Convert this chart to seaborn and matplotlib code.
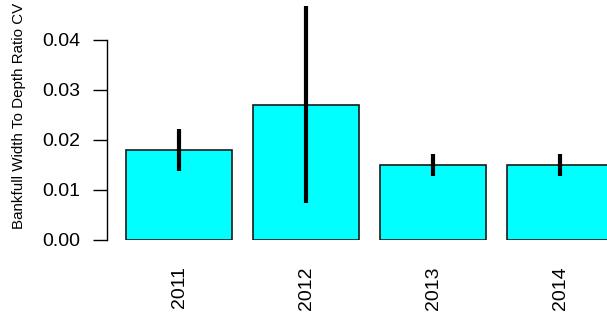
#!/usr/bin/env python3
"""Bankfull width to depth ratio CV by year, bar chart with interval lines."""

import pandas as pd
import seaborn as sns
import matplotlib
matplotlib.use("Agg")
import matplotlib.pyplot as plt

# --- Data ---
years = ["2011", "2012", "2013", "2014"]
cv_mean = [0.018, 0.027, 0.015, 0.015]
cv_low = [0.0138, 0.0074, 0.0128, 0.0128]
cv_high = [0.0222, 0.0468, 0.0172, 0.0172]
y_ticks = [0.00, 0.01, 0.02, 0.03, 0.04]

sns.set_theme(style="white")
plt.rcParams["font.family"] = ["Liberation Sans", "DejaVu Sans"]

df = pd.DataFrame({"year": years, "cv": cv_mean})

fig = plt.figure(figsize=(6.07, 3.2), dpi=100)
ax = fig.add_axes([107 / 607, 80 / 320, 500 / 607, 240 / 320])

sns.barplot(
    data=df,
    x="year",
    y="cv",
    color="#00FFFF",
    saturation=1,
    width=0.835,
    edgecolor="#1a1a1a",
    linewidth=1.2,
    errorbar=None,
    ax=ax,
)
for b in ax.patches:
    b.set_facecolor("#00FFFF")

# Interval lines
ax.vlines(range(len(years)), cv_low, cv_high, color="black", linewidth=3, zorder=5)

ax.set_xlim(-0.567, 3.37)
ax.set_ylim(0, 0.048)
ax.set_yticks(y_ticks)
ax.set_yticklabels([f"{v:.2f}" for v in y_ticks])

for side in ["top", "right", "bottom"]:
    ax.spines[side].set_visible(False)
ax.spines["left"].set_bounds(0, 0.04)
ax.spines["left"].set_color("black")
ax.spines["left"].set_linewidth(1)

ax.tick_params(axis="y", which="major", left=True, length=10, width=1,
               color="black", pad=9, labelsize=14, labelcolor="black")
ax.tick_params(axis="x", which="major", bottom=False, length=0, pad=19,
               labelsize=14, labelcolor="black", labelrotation=90)

ax.set_xlabel("")
ax.set_ylabel("")
fig.text(19 / 607, 1 - 115.5 / 320, "Bankfull Width To Depth Ratio CV",
         rotation=90, ha="center", va="center", fontsize=10.9, color="black")

ax.grid(False)
fig.savefig("out.png", dpi=100)
plt.close(fig)
